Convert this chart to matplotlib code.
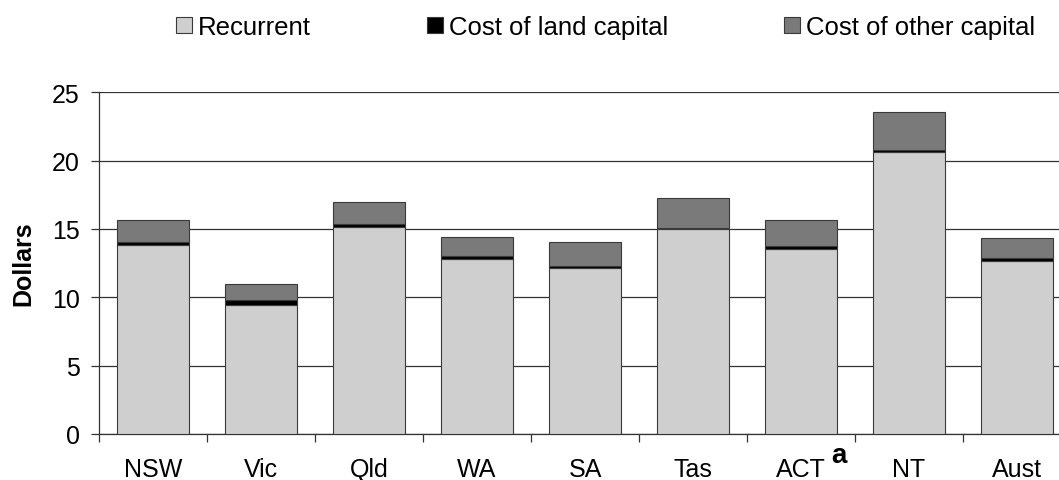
import matplotlib.pyplot as plt
import numpy as np

plt.rcParams['font.family'] = ['Liberation Sans', 'DejaVu Sans']

states = ['NSW', 'Vic', 'Qld', 'WA', 'SA', 'Tas', 'ACT', 'NT', 'Aust']
recurrent = [13.85, 9.46, 15.17, 12.83, 12.12, 15.02, 13.56, 20.60, 12.68]
land_capital = [0.17, 0.32, 0.19, 0.19, 0.19, 0.02, 0.22, 0.18, 0.17]
other_capital = [1.63, 1.19, 1.64, 1.37, 1.74, 2.25, 1.85, 2.77, 1.47]

x = np.arange(len(states))
rec = np.array(recurrent)
land = np.array(land_capital)
other = np.array(other_capital)

fig = plt.figure(figsize=(10.59, 4.81), dpi=100)
ax = fig.add_axes([99 / 1059, 46 / 481, 972 / 1059, 341.7 / 481])

w = 0.67
edge = dict(edgecolor='#3a3a3a', linewidth=0.8, zorder=3)
b1 = ax.bar(x, rec, w, color='#cfcfcf', label='Recurrent', **edge)
b2 = ax.bar(x, land, w, bottom=rec, color='black', label='Cost of land capital', **edge)
b3 = ax.bar(x, other, w, bottom=rec + land, color='#7a7a7a', label='Cost of other capital', **edge)

ax.set_xlim(-0.5, len(states) - 0.5)
ax.set_ylim(0, 25)
ax.set_yticks(np.arange(0, 26, 5))
ax.yaxis.grid(True, color='#333333', linewidth=0.9, zorder=0)
ax.set_axisbelow(True)

# category labels centred, tick marks at the boundaries
ax.set_xticks(x)
ax.set_xticklabels(states)
ax.set_xticks(np.arange(-0.5, len(states), 1), minor=True)
ax.tick_params(axis='x', which='major', length=0, pad=16.5, labelsize=18)
ax.tick_params(axis='x', which='minor', length=5.6, width=0.9, color='#333333')
ax.tick_params(axis='y', length=5.8, width=0.9, color='#333333', pad=8, labelsize=18)

for s in ['top', 'right']:
    ax.spines[s].set_visible(False)
for s in ['left', 'bottom']:
    ax.spines[s].set_color('#333333')
    ax.spines[s].set_linewidth(0.9)

ax.set_ylabel('Dollars', fontsize=18, fontweight='bold', labelpad=12)

# footnote marker on ACT
ax.annotate('a', xy=(6, 0), xycoords=('data', 'axes fraction'),
            xytext=(22, -20), textcoords='offset points',
            ha='left', va='baseline', fontsize=20, fontweight='bold')

fig.legend(handles=[b1, b2, b3], loc='center', bbox_to_anchor=(0.572, 0.942),
           ncol=3, frameon=False, fontsize=18.5, handlelength=0.62, handleheight=0.62,
           handletextpad=0.25, columnspacing=4.5)

fig.savefig('out.png', dpi=100)
